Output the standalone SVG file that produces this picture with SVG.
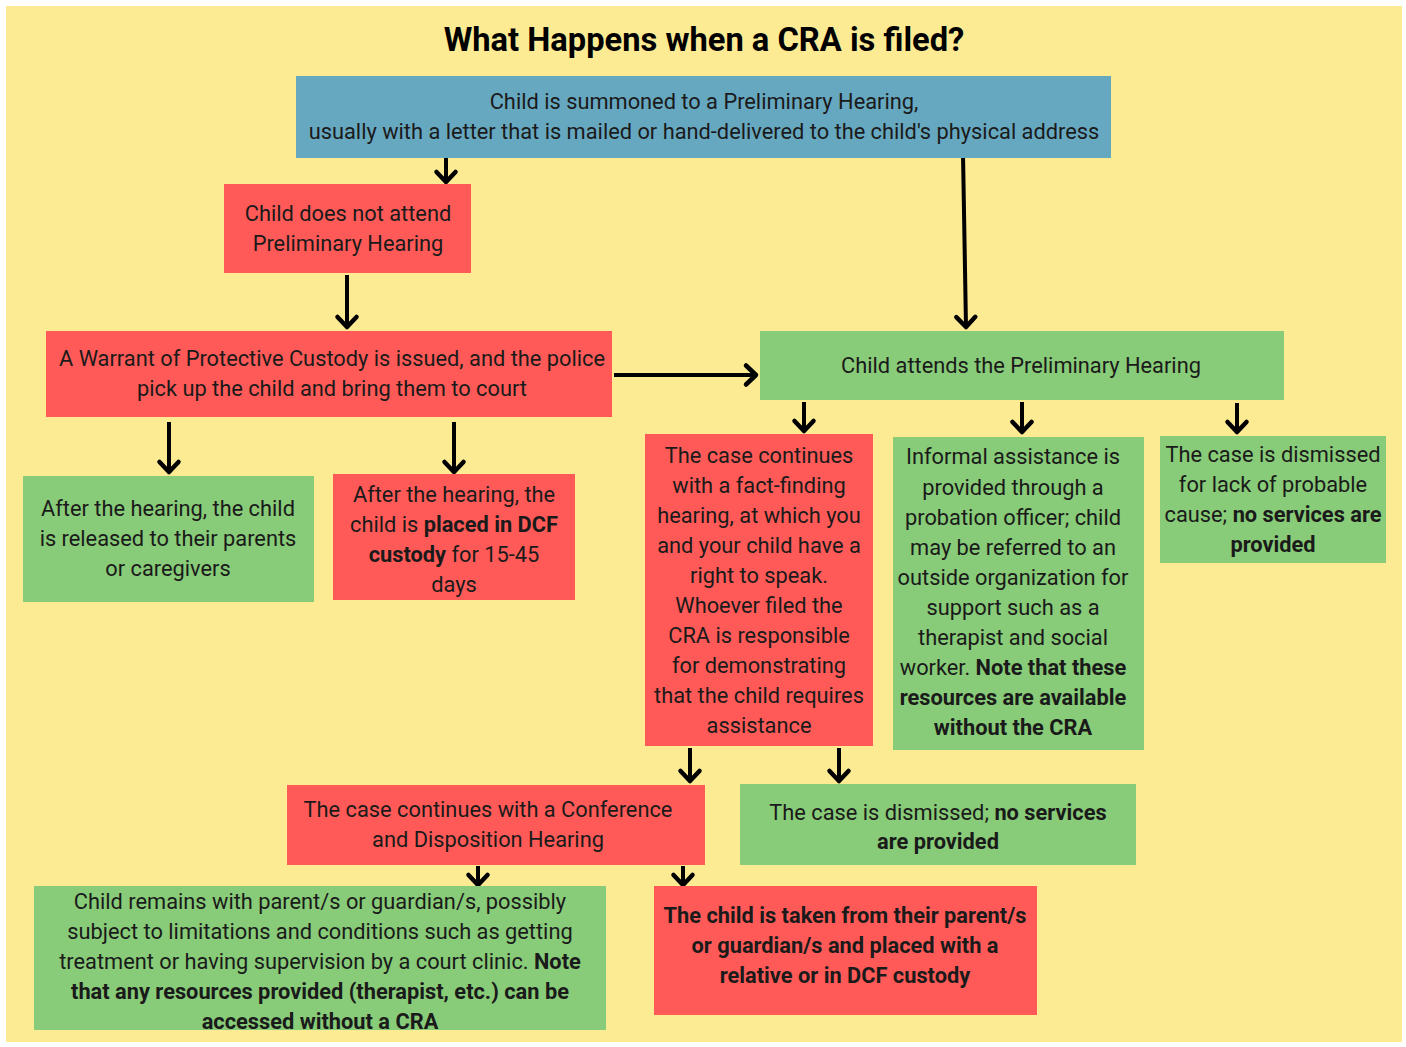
<svg xmlns="http://www.w3.org/2000/svg" width="1406" height="1047" viewBox="0 0 1406 1047">
<defs>
<style>
.bg{fill:#FDEB94}
.red{fill:#FF5A57}
.green{fill:#88CB78}
.blue{fill:#67A8C1}
text{font-family:Roboto,"Liberation Sans",sans-serif;font-size:21.8px;fill:#1a1a1a;text-anchor:middle}
.title{font-size:32.7px;font-weight:bold;fill:#000}
.b{font-weight:bold}
.arr{fill:none;stroke:#000;stroke-width:4;marker-end:url(#ah)}
</style>
<marker id="ah" markerUnits="userSpaceOnUse" markerWidth="24" markerHeight="24" viewBox="-12 -12 24 24" refX="0" refY="0" orient="auto" overflow="visible">
<path d="M-10,-9.5 L0,0 L-10,9.5" fill="none" stroke="#000" stroke-width="4.5" stroke-linecap="round" stroke-linejoin="round"/>
</marker>
</defs>
<rect x="0" y="0" width="1406" height="1047" fill="#fff"/>
<rect class="bg" x="6" y="6" width="1396" height="1036"/>
<text class="title" x="704" y="51">What Happens when a CRA is filed?</text>

<g id="connectors">
<path class="arr" d="M446,155 L446,182"/>
<path class="arr" d="M963,154 L966,327"/>
<path class="arr" d="M347,275 L347,327"/>
<path class="arr" d="M614,375 L756,375"/>
<path class="arr" d="M169,422 L169,472"/>
<path class="arr" d="M454,422 L454,472"/>
<path class="arr" d="M804,402 L804,431"/>
<path class="arr" d="M1022,402 L1022,432"/>
<path class="arr" d="M1237,403 L1237,432"/>
<path class="arr" d="M690,748 L690,781"/>
<path class="arr" d="M839,748 L839,781"/>
<path class="arr" d="M478,866 L478,885"/>
<path class="arr" d="M683,866 L683,885"/>
</g>

<g id="n-summoned">
<rect class="blue" x="296" y="76" width="815" height="82"/>
<text x="704" y="109">Child is summoned to a Preliminary Hearing,</text>
<text x="704" y="139">usually with a letter that is mailed or hand-delivered to the child's physical address</text>
</g>

<g id="n-notattend">
<rect class="red" x="224" y="184" width="247" height="89"/>
<text x="348" y="221">Child does not attend</text>
<text x="348" y="251">Preliminary Hearing</text>
</g>

<g id="n-warrant">
<rect class="red" x="46" y="331" width="566" height="86"/>
<text x="332" y="366">A Warrant of Protective Custody is issued, and the police</text>
<text x="332" y="396">pick up the child and bring them to court</text>
</g>

<g id="n-attends">
<rect class="green" x="760" y="331" width="524" height="69"/>
<text x="1021" y="373">Child attends the Preliminary Hearing</text>
</g>

<g id="n-released">
<rect class="green" x="23" y="476" width="291" height="126"/>
<text x="168" y="516">After the hearing, the child</text>
<text x="168" y="546">is released to their parents</text>
<text x="168" y="576">or caregivers</text>
</g>

<g id="n-dcf15">
<rect class="red" x="333" y="474" width="242" height="126"/>
<text x="454" y="502">After the hearing, the</text>
<text x="454" y="532">child is <tspan class="b">placed in DCF</tspan></text>
<text x="454" y="562"><tspan class="b">custody</tspan> for 15-45</text>
<text x="454" y="592">days</text>
</g>

<g id="n-factfinding">
<rect class="red" x="645" y="434" width="228" height="312"/>
<text x="759" y="463">The case continues</text>
<text x="759" y="493">with a fact-finding</text>
<text x="759" y="523">hearing, at which you</text>
<text x="759" y="553">and your child have a</text>
<text x="759" y="583">right to speak.</text>
<text x="759" y="613">Whoever filed the</text>
<text x="759" y="643">CRA is responsible</text>
<text x="759" y="673">for demonstrating</text>
<text x="759" y="703">that the child requires</text>
<text x="759" y="733">assistance</text>
</g>

<g id="n-informal">
<rect class="green" x="893" y="437" width="251" height="313"/>
<text x="1013" y="464">Informal assistance is</text>
<text x="1013" y="495">provided through a</text>
<text x="1013" y="525">probation officer; child</text>
<text x="1013" y="555">may be referred to an</text>
<text x="1013" y="585">outside organization for</text>
<text x="1013" y="615">support such as a</text>
<text x="1013" y="645">therapist and social</text>
<text x="1013" y="675">worker. <tspan class="b">Note that these</tspan></text>
<text x="1013" y="705" class="b">resources are available</text>
<text x="1013" y="735" class="b">without the CRA</text>
</g>

<g id="n-dismissed-probable">
<rect class="green" x="1160" y="436" width="226" height="127"/>
<text x="1273" y="462">The case is dismissed</text>
<text x="1273" y="492">for lack of probable</text>
<text x="1273" y="522">cause; <tspan class="b">no services are</tspan></text>
<text x="1273" y="552" class="b">provided</text>
</g>

<g id="n-conference">
<rect class="red" x="287" y="785" width="418" height="80"/>
<text x="488" y="817">The case continues with a Conference</text>
<text x="488" y="847">and Disposition Hearing</text>
</g>

<g id="n-dismissed">
<rect class="green" x="740" y="784" width="396" height="81"/>
<text x="938" y="820">The case is dismissed; <tspan class="b">no services</tspan></text>
<text x="938" y="849" class="b">are provided</text>
</g>

<g id="n-remains">
<rect class="green" x="34" y="886" width="572" height="144"/>
<text x="320" y="909">Child remains with parent/s or guardian/s, possibly</text>
<text x="320" y="939">subject to limitations and conditions such as getting</text>
<text x="320" y="969">treatment or having supervision by a court clinic. <tspan class="b">Note</tspan></text>
<text x="320" y="999" class="b">that any resources provided (therapist, etc.) can be</text>
<text x="320" y="1029" class="b">accessed without a CRA</text>
</g>

<g id="n-taken">
<rect class="red" x="654" y="886" width="383" height="129"/>
<text x="845" y="923" class="b">The child is taken from their parent/s</text>
<text x="845" y="953" class="b">or guardian/s and placed with a</text>
<text x="845" y="983" class="b">relative or in DCF custody</text>
</g>
</svg>
